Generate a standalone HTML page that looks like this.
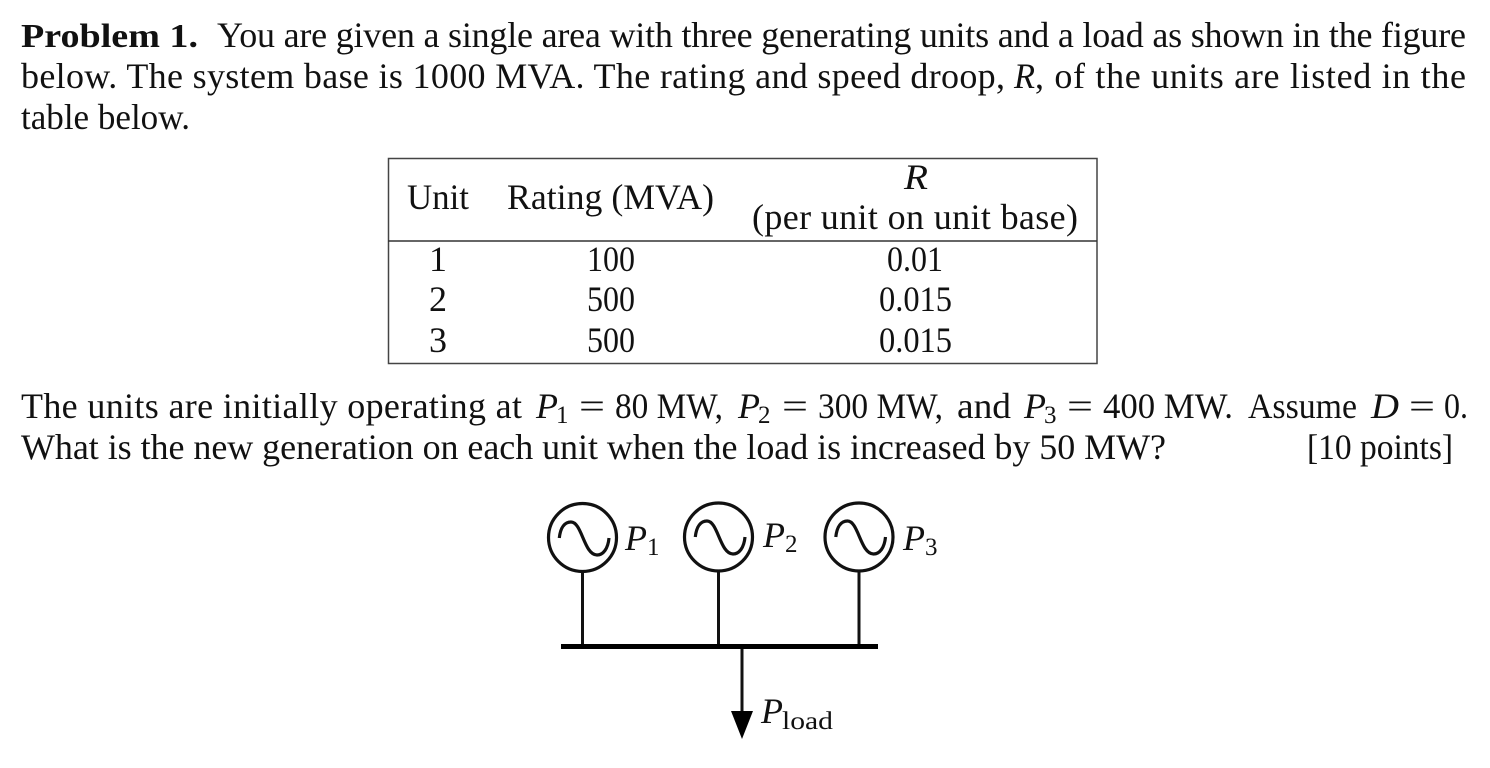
<!DOCTYPE html>
<html lang="en">
<head>
<meta charset="utf-8">
<title>Problem 1</title>
<style>
html,body{margin:0;padding:0;background:#fff;width:1490px;height:768px;overflow:hidden}
svg{display:block}
text{font-family:"Liberation Serif",serif;font-size:36px;fill:#111;white-space:pre}
.i{font-style:italic}
.b{font-weight:bold;font-size:34px}
.s{font-size:25px}
.m{text-anchor:middle}
</style>
</head>
<body>
<svg width="1490" height="768" viewBox="0 0 1490 768" xmlns="http://www.w3.org/2000/svg">
<rect width="1490" height="768" fill="#fff"/>

<!-- Paragraph -->
<text x="21" y="47" class="b" textLength="177" lengthAdjust="spacingAndGlyphs">Problem 1.</text>
<text x="217" y="47" textLength="1249" lengthAdjust="spacing">You are given a single area with three generating units and a load as shown in the figure</text>
<text x="21" y="88" textLength="984" lengthAdjust="spacing">below. The system base is 1000 MVA. The rating and speed droop,</text>
<text x="1014" y="88" class="i" textLength="21" lengthAdjust="spacingAndGlyphs">R</text>
<text x="1035" y="88" textLength="431" lengthAdjust="spacing">, of the units are listed in the</text>
<text x="21" y="129" textLength="169" lengthAdjust="spacingAndGlyphs">table below.</text>

<!-- Table -->
<rect x="388.5" y="158.5" width="708.500" height="205" fill="none" stroke="#444" stroke-width="1.5"/>
<line x1="388" y1="241" x2="1097" y2="241" stroke="#333" stroke-width="1.5"/>
<text x="407" y="209" textLength="62" lengthAdjust="spacingAndGlyphs">Unit</text>
<text x="507" y="209" textLength="207" lengthAdjust="spacingAndGlyphs">Rating (MVA)</text>
<text x="904" y="189" class="i" textLength="24" lengthAdjust="spacingAndGlyphs">R</text>
<text x="752" y="229" textLength="326" lengthAdjust="spacing">(per unit on unit base)</text>
<text x="438" y="271" class="m">1</text>
<text x="438" y="311" class="m">2</text>
<text x="438" y="352" class="m">3</text>
<text x="587" y="271" textLength="48" lengthAdjust="spacingAndGlyphs">100</text>
<text x="587" y="311" textLength="48" lengthAdjust="spacingAndGlyphs">500</text>
<text x="587" y="352" textLength="48" lengthAdjust="spacingAndGlyphs">500</text>
<text x="887" y="271" textLength="56" lengthAdjust="spacingAndGlyphs">0.01</text>
<text x="879" y="311" textLength="73" lengthAdjust="spacingAndGlyphs">0.015</text>
<text x="879" y="352" textLength="73" lengthAdjust="spacingAndGlyphs">0.015</text>

<!-- Paragraph 2 -->
<text x="21" y="418" textLength="501" lengthAdjust="spacing">The units are initially operating at</text>
<text x="536" y="418" class="i">P</text><text x="556" y="423" class="s">1</text>
<text x="579" y="418" textLength="26" lengthAdjust="spacingAndGlyphs">=</text>
<text x="615" y="418" textLength="108" lengthAdjust="spacingAndGlyphs">80 MW,</text>
<text x="738" y="418" class="i">P</text><text x="758" y="423" class="s">2</text>
<text x="782" y="418" textLength="26" lengthAdjust="spacingAndGlyphs">=</text>
<text x="818" y="418" textLength="125" lengthAdjust="spacingAndGlyphs">300 MW,</text>
<text x="957" y="418" textLength="54" lengthAdjust="spacingAndGlyphs">and</text>
<text x="1024" y="418" class="i">P</text><text x="1044" y="423" class="s">3</text>
<text x="1067" y="418" textLength="26" lengthAdjust="spacingAndGlyphs">=</text>
<text x="1103" y="418" textLength="130" lengthAdjust="spacingAndGlyphs">400 MW.</text>
<text x="1248" y="418" textLength="109" lengthAdjust="spacingAndGlyphs">Assume</text>
<text x="1371" y="418" class="i" textLength="28" lengthAdjust="spacingAndGlyphs">D</text>
<text x="1409" y="418" textLength="26" lengthAdjust="spacingAndGlyphs">=</text>
<text x="1444" y="418" textLength="24" lengthAdjust="spacingAndGlyphs">0.</text>
<text x="21" y="459" textLength="1145" lengthAdjust="spacing">What is the new generation on each unit when the load is increased by 50 MW?</text>
<text x="1307" y="459" textLength="146" lengthAdjust="spacingAndGlyphs">[10 points]</text>

<!-- Diagram -->
<g fill="none" stroke="#111" stroke-width="3.2">
  <circle cx="582.500" cy="537.500" r="34"/>
  <circle cx="718.500" cy="537" r="34"/>
  <circle cx="859" cy="537" r="34"/>
  <path d="M559.300 538 C560.500 527 565 522 571 522 C582 522 584 555 597 555 C603 555 608 549 609 538"/>
  <path d="M695.300 537 C696.500 526 701 521 707 521 C718 521 720 554 733 554 C739 554 744 548 745 537"/>
  <path d="M835.800 537 C837 526 841.500 521 847.500 521 C858.500 521 860.500 554 873.500 554 C879.500 554 884.500 548 885.500 537"/>
  <line x1="582.500" y1="571" x2="582.500" y2="646" stroke-width="3"/>
  <line x1="718.500" y1="571" x2="718.500" y2="646" stroke-width="3"/>
  <line x1="859" y1="571" x2="859" y2="646" stroke-width="3"/>
  <line x1="742" y1="646" x2="742" y2="716" stroke-width="3"/>
</g>
<rect x="561" y="644" width="317" height="5" fill="#000"/>
<polygon points="731,711 753,711 742,739" fill="#000"/>

<text x="625" y="550" class="i">P</text><text x="647" y="555" class="s">1</text>
<text x="763" y="547" class="i">P</text><text x="785" y="552" class="s">2</text>
<text x="903" y="550" class="i">P</text><text x="925" y="555" class="s">3</text>
<text x="761" y="723" class="i">P</text><text x="782" y="729" class="s" textLength="51" lengthAdjust="spacingAndGlyphs">load</text>
</svg>
</body>
</html>
